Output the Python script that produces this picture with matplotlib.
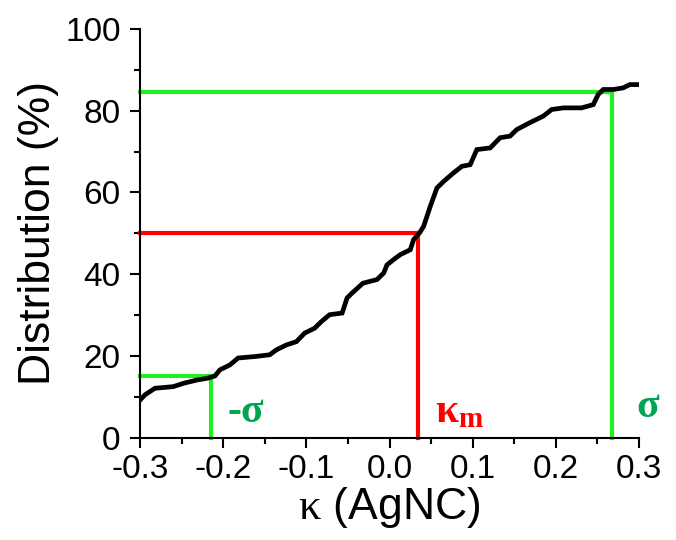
import matplotlib
matplotlib.use("Agg")
import matplotlib.pyplot as plt
from matplotlib.ticker import MultipleLocator

plt.rcParams["font.family"] = ["Liberation Sans", "DejaVu Sans"]
plt.rcParams["axes.unicode_minus"] = False
plt.rcParams["mathtext.fontset"] = "custom"
plt.rcParams["mathtext.rm"] = "Liberation Serif"
plt.rcParams["mathtext.bf"] = "Liberation Serif:bold"

# cumulative distribution of kappa values (AgNC)
kappa = [-0.300, -0.294, -0.282, -0.260, -0.248, -0.232, -0.218, -0.210, -0.204,
         -0.192, -0.182, -0.160, -0.144, -0.136, -0.124, -0.112, -0.102, -0.090,
         -0.082, -0.072, -0.057, -0.051, -0.045, -0.032, -0.015, -0.007, -0.003,
         0.005, 0.013, 0.025, 0.029, 0.036, 0.041, 0.049, 0.057, 0.065, 0.077,
         0.087, 0.097, 0.105, 0.121, 0.133, 0.145, 0.153, 0.169, 0.185, 0.195,
         0.209, 0.231, 0.245, 0.251, 0.257, 0.269, 0.281, 0.289, 0.299]
dist = [9.2, 10.5, 12.1, 12.5, 13.3, 14.1, 14.6, 15.1, 16.6,
        17.8, 19.5, 19.9, 20.3, 21.5, 22.7, 23.5, 25.6, 26.8,
        28.4, 30.1, 30.5, 34.2, 35.4, 37.8, 38.7, 40.3, 42.3,
        43.6, 44.8, 46.0, 48.5, 50.1, 51.7, 56.6, 61.1, 62.7, 64.8,
        66.4, 66.8, 70.5, 70.9, 73.4, 73.8, 75.4, 77.1, 78.7, 80.3,
        80.7, 80.7, 81.5, 84.0, 85.2, 85.2, 85.6, 86.4, 86.4]

# median and +/- sigma markers
kappa_m, level_m = 0.034, 50.0
sigma_lo, level_lo = -0.215, 15.1
sigma_hi, level_hi = 0.267, 84.7

green = "#22ee22"
red = "#ff0000"
label_green = "#00a550"

fig = plt.figure(figsize=(6.76, 5.4), dpi=100)
ax = fig.add_axes([0.2071, 0.1894, 0.7382, 0.7569])

ax.plot(kappa, dist, color="black", lw=3.4, solid_joinstyle="miter", zorder=3)

for x, lvl, c in [(sigma_lo, level_lo, green), (kappa_m, level_m, red), (sigma_hi, level_hi, green)]:
    ax.plot([-0.3, x, x], [lvl, lvl, 0], color=c, lw=3.0,
            solid_joinstyle="miter", clip_on=False, zorder=2)

serif_bold = dict(family="Liberation Serif", fontweight="bold", fontsize=30)
ax.text(-0.195, 3.8, "-σ", color=label_green, ha="left", va="baseline", **serif_bold)
ax.text(0.055, 3.8, r"$\mathbf{\kappa_m}$", color=red, fontsize=30,
        ha="left", va="baseline")
ax.text(0.297, 5.0, "σ", color=label_green, ha="left", va="baseline",
        clip_on=False, **serif_bold)

ax.set_xlim(-0.3, 0.3)
ax.set_ylim(0, 100)
ax.xaxis.set_major_locator(MultipleLocator(0.1))
ax.xaxis.set_minor_locator(MultipleLocator(0.05))
ax.yaxis.set_major_locator(MultipleLocator(20))
ax.yaxis.set_minor_locator(MultipleLocator(10))
ax.xaxis.set_major_formatter(plt.FuncFormatter(lambda v, p: f"{v:.1f}".replace("-0.0", "0.0")))

for side in ["top", "right"]:
    ax.spines[side].set_visible(False)
for side in ["left", "bottom"]:
    ax.spines[side].set_linewidth(1.5)

ax.tick_params(which="major", direction="out", length=7, width=1.5, labelsize=24)
ax.tick_params(axis="x", which="major", pad=5)
ax.tick_params(axis="y", which="major", pad=7)
ax.tick_params(which="minor", direction="out", length=4, width=1.5)

ax.set_xlabel(r"$\mathrm{\kappa}$ (AgNC)", fontsize=32, labelpad=0)
ax.set_ylabel("Distribution (%)", fontsize=32, labelpad=4)

fig.savefig("out.png", dpi=100)
